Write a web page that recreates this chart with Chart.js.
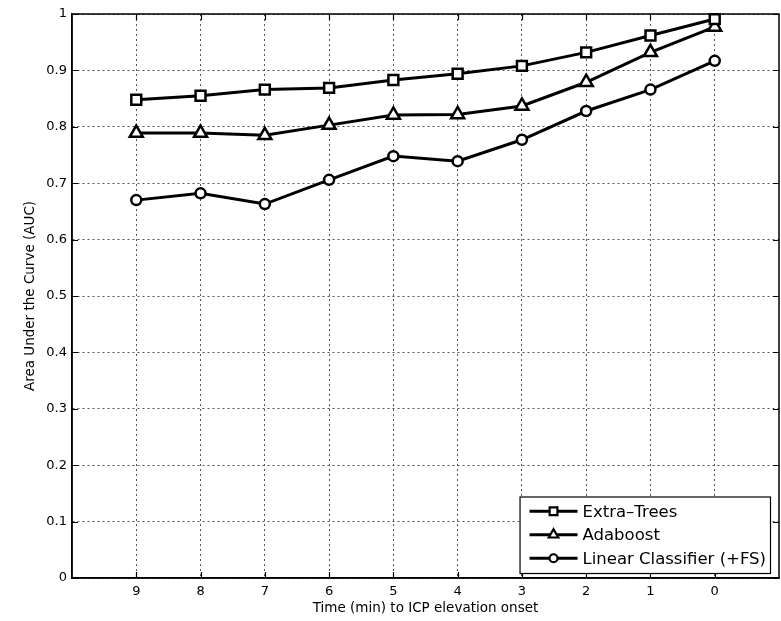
<!DOCTYPE html>
<html><head><meta charset="utf-8">
<script src="https://cdn.jsdelivr.net/npm/chart.js@4.4.0/dist/chart.umd.min.js"></script>
<style>html,body{margin:0;padding:0;background:#fff;}#wrap{width:781px;height:621px;}</style>
</head><body><div id="wrap"><canvas id="c" width="781" height="621"></canvas></div>
<script>
// ---- data ----
const timeLabels = [9, 8, 7, 6, 5, 4, 3, 2, 1, 0];
const extraTrees = [0.848, 0.855, 0.866, 0.869, 0.883, 0.894, 0.908, 0.932, 0.962, 0.991];
const adaboost   = [0.789, 0.789, 0.785, 0.803, 0.821, 0.822, 0.837, 0.879, 0.932, 0.977];
const linearFS   = [0.670, 0.682, 0.663, 0.706, 0.748, 0.739, 0.777, 0.828, 0.866, 0.917];
const yTicks = [0, 0.1, 0.2, 0.3, 0.4, 0.5, 0.6, 0.7, 0.8, 0.9, 1];
const seriesNames = ['Extra\u2013Trees', 'Adaboost', 'Linear Classifier (+FS)'];
const markerStyles = ['rect', 'triangle', 'circle'];
const xTitle = 'Time (min) to ICP elevation onset';
const yTitle = 'Area Under the Curve (AUC)';

const FONT = "'DejaVu Sans', sans-serif";
const X_MIN = -1, X_MAX = 10;
const toPts = arr => arr.map((v, i) => ({x: timeLabels[i], y: v}));
const seriesValues = [extraTrees, adaboost, linearFS];
const markerRadius = {rect: 7, triangle: 7.5, circle: 5};

const datasets = seriesValues.map((vals, i) => ({
  label: seriesNames[i],
  data: toPts(vals),
  borderColor: '#000',
  borderWidth: 3,
  pointStyle: markerStyles[i],
  pointRadius: markerRadius[markerStyles[i]],
  pointBorderWidth: 2.5,
  pointBorderColor: '#000',
  pointBackgroundColor: '#fff',
  clip: false,
  tension: 0
}));

const boxPlugin = {
  id: 'box',
  beforeDatasetsDraw(chart) {
    const {ctx, chartArea: {left, top, right, bottom}, scales: {x, y}} = chart;
    ctx.save();
    ctx.strokeStyle = '#000';
    ctx.lineWidth = 1.5;
    ctx.strokeRect(left, top, right - left, bottom - top);
    ctx.lineWidth = 1.2;
    ctx.beginPath();
    timeLabels.forEach(v => {
      const px = Math.round(x.getPixelForValue(v)) + 0.5;
      ctx.moveTo(px, bottom); ctx.lineTo(px, bottom - 6);
      ctx.moveTo(px, top); ctx.lineTo(px, top + 6);
    });
    yTicks.forEach(v => {
      const py = Math.round(y.getPixelForValue(v)) + 0.5;
      ctx.moveTo(left, py); ctx.lineTo(left + 6, py);
      ctx.moveTo(right, py); ctx.lineTo(right - 6, py);
    });
    ctx.stroke();
    ctx.restore();
  },
  afterDraw(chart) {
    const {ctx, chartArea: {right, bottom}} = chart;
    const fontSize = 16.5;
    ctx.save();
    ctx.font = fontSize + 'px ' + FONT;
    const tw = Math.max(...chart.data.datasets.map(d => ctx.measureText(d.label).width));
    const rowH = 23.5, padL = 10, sampleW = 48, gap = 5, padR = 4, padV = 3;
    const w = padL + sampleW + gap + tw + padR;
    const h = padV * 2 + rowH * chart.data.datasets.length;
    const bx = right - 9 - w, by = bottom - 5 - h;
    ctx.fillStyle = '#fff';
    ctx.fillRect(bx, by, w, h);
    ctx.strokeStyle = '#000';
    ctx.lineWidth = 1.2;
    ctx.strokeRect(bx + 0.5, by + 0.5, w, h);
    chart.data.datasets.forEach((d, i) => {
      const cy = by + padV + rowH * (i + 0.5);
      const sx = bx + padL;
      ctx.strokeStyle = '#000';
      ctx.lineWidth = 3;
      ctx.beginPath(); ctx.moveTo(sx, cy); ctx.lineTo(sx + sampleW, cy); ctx.stroke();
      ctx.fillStyle = '#fff';
      ctx.lineWidth = 2.2;
      Chart.helpers.drawPoint(ctx, {pointStyle: d.pointStyle, radius: d.pointStyle === 'circle' ? 4 : 5.5, borderWidth: 2.2, rotation: 0}, sx + sampleW / 2, cy);
      ctx.fillStyle = '#000';
      ctx.textBaseline = 'middle';
      ctx.textAlign = 'left';
      ctx.fillText(d.label, sx + sampleW + gap, cy + 1);
    });
    ctx.restore();
  }
};

const isEdge = v => v === X_MIN || v === X_MAX;

new Chart(document.getElementById('c'), {
  type: 'line',
  data: {datasets},
  plugins: [boxPlugin],
  options: {
    responsive: false,
    animation: false,
    devicePixelRatio: 1,
    layout: {autoPadding: false, padding: {left: 22, top: 14, right: 2, bottom: 4}},
    plugins: {legend: {display: false}, tooltip: {enabled: false}},
    elements: {line: {borderJoinStyle: 'miter'}},
    scales: {
      x: {
        type: 'linear', reverse: true, min: X_MIN, max: X_MAX,
        afterBuildTicks: s => { s.ticks = [X_MAX, ...timeLabels, X_MIN].map(v => ({value: v})); },
        afterFit: s => { s.height = 39; s.paddingLeft = 0; s.paddingRight = 0; },
        ticks: {color: '#000', font: {family: FONT, size: 13}, padding: 6, maxRotation: 0, autoSkip: false,
                callback: v => isEdge(v) ? '' : String(v)},
        grid: {color: c => (c.tick && isEdge(c.tick.value)) ? 'rgba(0,0,0,0)' : '#555', lineWidth: 1, drawTicks: false},
        border: {display: true, color: '#000', width: 1.5, dash: [2, 3]},
        title: {display: true, text: xTitle, color: '#000', font: {family: FONT, size: 13.5}, padding: {top: 0, bottom: 0}}
      },
      y: {
        type: 'linear', min: 0, max: 1,
        afterBuildTicks: s => { s.ticks = yTicks.map(v => ({value: v})); },
        afterFit: s => { s.width = 50; s.paddingTop = 0; s.paddingBottom = 0; },
        ticks: {color: '#000', font: {family: FONT, size: 13}, padding: 5, autoSkip: false,
                callback: v => String(+v.toFixed(1))},
        grid: {color: '#555', lineWidth: 1, drawTicks: false},
        border: {display: true, color: '#000', width: 1.5, dash: [2, 3]},
        title: {display: true, text: yTitle, color: '#000', font: {family: FONT, size: 13.5}, padding: {top: 0, bottom: 0}}
      }
    }
  }
});
</script></body></html>
